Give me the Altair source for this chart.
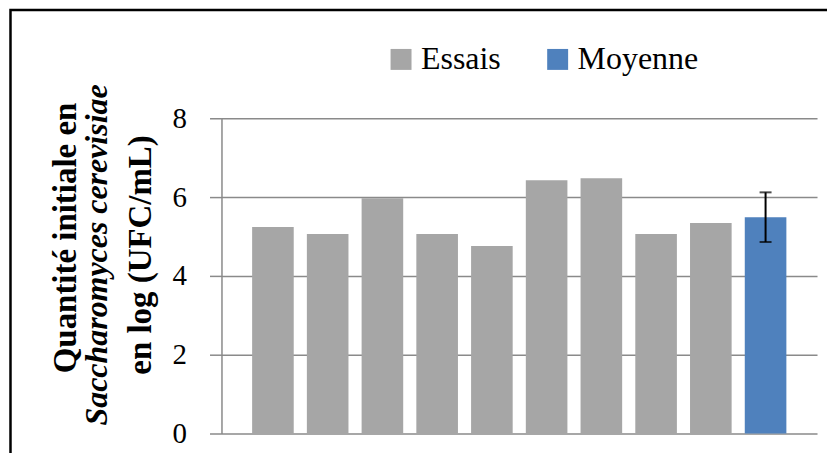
import altair as alt
import pandas as pd

# ---- data ----
categories = ["Essai 1", "Essai 2", "Essai 3", "Essai 4", "Essai 5",
              "Essai 6", "Essai 7", "Essai 8", "Essai 9", "Moyenne"]
values = [5.24, 5.06, 5.97, 5.06, 4.76, 6.43, 6.48, 5.06, 5.34, 5.49]
series = ["Essais"] * 9 + ["Moyenne"]
series_names = ["Essais", "Moyenne"]
series_colors = ["#A6A6A6", "#4F81BD"]
err_category = ["Moyenne"]
err_low = [4.86]
err_high = [6.12]
y_ticks = [0, 2, 4, 6, 8]
title_lines = ["Quantité initiale en", "Saccharomyces cerevisiae", "en log (UFC/mL)"]

FONT = "Liberation Serif"
GRID = "#8a8a8a"

df = pd.DataFrame({"cat": categories, "val": values, "serie": series})
df_err = pd.DataFrame({"cat": err_category, "lo": err_low, "hi": err_high})

x_enc = alt.X("cat:N", sort=categories, axis=None,
              scale=alt.Scale(paddingInner=0.24, paddingOuter=0.56))
y_scale = alt.Scale(domain=[0, 8], nice=False)

bars = alt.Chart(df).mark_bar().encode(
    x=x_enc,
    y=alt.Y("val:Q", scale=y_scale, title=None,
            axis=alt.Axis(values=y_ticks, grid=True, gridColor=GRID, gridWidth=1.5,
                          domainColor=GRID, domainWidth=1.5, tickColor=GRID,
                          tickWidth=1.5, tickSize=12, labelPadding=23,
                          labelFont=FONT, labelFontSize=29, labelColor="black")),
    color=alt.Color("serie:N",
                    scale=alt.Scale(domain=series_names, range=series_colors),
                    legend=alt.Legend(title=None, orient="none", legendX=164, legendY=-75,
                                      direction="horizontal", symbolType="square",
                                      symbolSize=441, symbolStrokeWidth=0,
                                      labelFont=FONT, labelFontSize=32, labelColor="black",
                                      labelOffset=4, columnPadding=41)),
)

err_rule = alt.Chart(df_err).mark_rule(color="black", strokeWidth=2).encode(
    x=alt.X("cat:N", sort=categories), y=alt.Y("lo:Q", scale=y_scale), y2="hi:Q")
cap_lo = alt.Chart(df_err).mark_tick(color="black", size=12, thickness=2).encode(
    x=alt.X("cat:N", sort=categories), y=alt.Y("lo:Q", scale=y_scale))
cap_hi = alt.Chart(df_err).mark_tick(color="black", size=12, thickness=2).encode(
    x=alt.X("cat:N", sort=categories), y=alt.Y("hi:Q", scale=y_scale))

t1 = alt.Chart(pd.DataFrame({"t": [title_lines[0]]})).mark_text(
    angle=270, font=FONT, fontSize=33, fontWeight="bold", align="center",
    baseline="alphabetic", color="black").encode(
    x=alt.value(-146), y=alt.value(120), text="t:N")
t2 = alt.Chart(pd.DataFrame({"t": [title_lines[1]]})).mark_text(
    angle=270, font=FONT, fontSize=32, fontWeight="bold", fontStyle="italic",
    align="center", baseline="alphabetic", color="black").encode(
    x=alt.value(-115), y=alt.value(137), text="t:N")
t3 = alt.Chart(pd.DataFrame({"t": [title_lines[2]]})).mark_text(
    angle=270, font=FONT, fontSize=33, fontWeight="bold", align="center",
    baseline="alphabetic", color="black").encode(
    x=alt.value(-71), y=alt.value(137), text="t:N")

frame = alt.Chart(pd.DataFrame({"k": [0]})).mark_rect(
    fill="transparent", stroke="black", strokeWidth=2.5).encode(
    x=alt.value(-211.5), x2=alt.value(700), y=alt.value(-108.5), y2=alt.value(500))

chart = alt.layer(frame, bars, err_rule, cap_lo, cap_hi, t1, t2, t3).properties(
    width=597, height=316,
    autosize=alt.AutoSizeParams(type="none"),
    padding={"left": 214, "top": 110, "right": 10, "bottom": 19},
    background="white",
).configure_view(strokeWidth=0)

chart.save("out.html", embed_options={"renderer": "svg", "actions": False})
